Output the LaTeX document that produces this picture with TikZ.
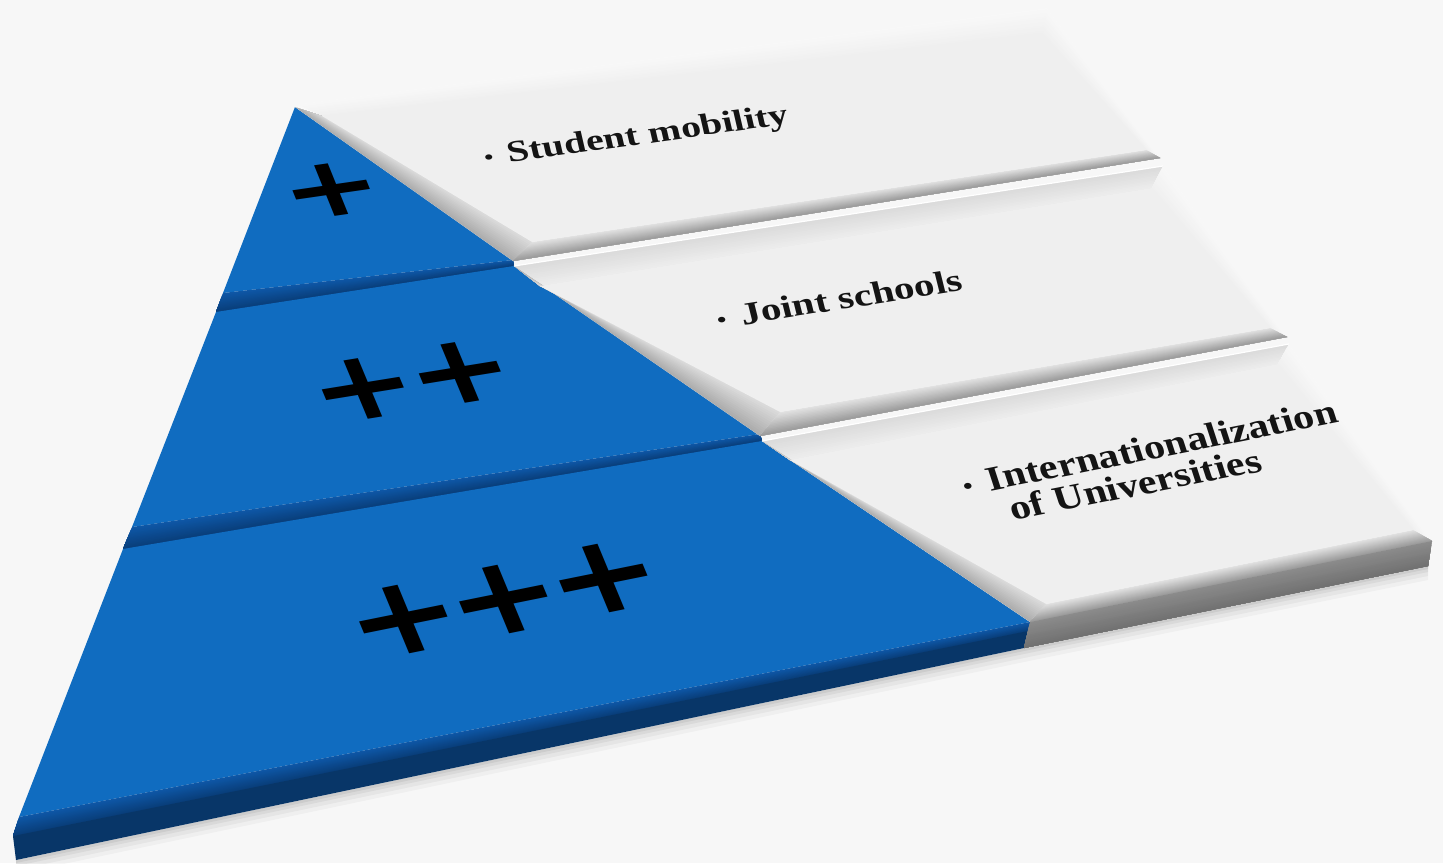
\documentclass[tikz,border=0pt]{standalone}
\usepackage{fontspec}
\setmainfont{Liberation Serif}
\newfontfamily\plusfont{DejaVu Sans}
\usetikzlibrary{calc}
\definecolor{bg}{HTML}{F7F7F7}
\definecolor{blueTop}{RGB}{16,108,192}
\definecolor{blueSeamA}{RGB}{14,88,168}
\definecolor{blueSeamB}{RGB}{9,62,122}
\definecolor{blueFront}{RGB}{8,54,104}
\definecolor{greyFace}{HTML}{EFEFEF}
\definecolor{greyRim}{HTML}{F8F8F8}
\definecolor{rimIn}{HTML}{F0F0F0}
\definecolor{bevDiagA}{HTML}{ABABAB}
\definecolor{bevDiagB}{HTML}{DCDCDC}
\definecolor{bevBotA}{HTML}{E4E4E4}
\definecolor{bevBotB}{HTML}{9A9A9A}
\definecolor{topRimA}{HTML}{DADADA}
\definecolor{topRimB}{HTML}{EDEDED}
\definecolor{frontA}{HTML}{8C8C8C}
\definecolor{frontB}{HTML}{717171}
\definecolor{textcol}{HTML}{141414}
% gradient strip: painted from the far edge inwards, each band reaching to the far edge
\newcommand\gstrip[6]{%
  \foreach \k in {1,...,14}{%
    \pgfmathsetmacro\ta{(\k-1)/14}%
    \pgfmathtruncatemacro\pc{round(100*(\k-0.5)/14)}%
    \fill[#6!\pc!#5]
      ($(#1)!\ta!(#4)$) -- ($(#2)!\ta!(#3)$) -- (#3) -- (#4) -- cycle;
  }%
}
\newcommand\bul{\makebox[18pt][l]{\raisebox{1.5pt}{\scalebox{0.65}{\textbullet}}}}
\tikzset{
  txt/.style={inner sep=0pt, transform shape, anchor=base west, text=textcol,
    font=\fontsize{30}{26.4}\selectfont\bfseries},
  plus/.style={inner sep=0pt, transform shape, anchor=center, text=black,
    font=\plusfont\bfseries\fontsize{100}{100}\selectfont}
}
\begin{document}
\begin{tikzpicture}[x=1pt,y=-1pt]
\useasboundingbox (0,0) rectangle (1443,863);
\fill[bg] (0,0) rectangle (1443,863);

% ---- key points ----
\coordinate (A) at (295,107);
\coordinate (L1a) at (223,293);
\coordinate (L1b) at (216,312);
\coordinate (L2a) at (132,527);
\coordinate (L2b) at (123,549);
\coordinate (L3a) at (19,817);
\coordinate (L3m) at (13,836);
\coordinate (L3b) at (16,860);
\coordinate (D1a) at (513,260);
\coordinate (D1b) at (514,266);
\coordinate (D2a) at (760,434);
\coordinate (D2b) at (762,441);
\coordinate (D3a) at (1030,622);
\coordinate (D3m) at (1028,631);
\coordinate (D3b) at (1024,648);

\coordinate (P1tl) at (299,104);
\coordinate (P1tr) at (1047,8);
\coordinate (P1br) at (1160,158);
\coordinate (P1bl) at (513,261);
\coordinate (F1tl) at (322,116);
\coordinate (F1tr) at (1042,33);
\coordinate (F1br) at (1146,150);
\coordinate (F1bl) at (532,242);

\coordinate (P2tl) at (514,266);
\coordinate (P2tr) at (1163,166);
\coordinate (P2br) at (1287,337);
\coordinate (P2bl) at (760,436);
\coordinate (F2tl) at (540,286);
\coordinate (F2tr) at (1152,188);
\coordinate (F2br) at (1270,328);
\coordinate (F2bl) at (780,412);

\coordinate (P3tl) at (762,441);
\coordinate (P3tr) at (1289,344);
\coordinate (P3br) at (1432,541);
\coordinate (P3bl) at (1030,622);
\coordinate (F3tl) at (790,460);
\coordinate (F3tr) at (1278,364);
\coordinate (F3br) at (1413,530);
\coordinate (F3bl) at (1046,604);
\coordinate (P3fr) at (1428,566);

% ---- soft shadow ----
\foreach \s/\o in {14/0.03,10/0.04,6/0.05,3/0.06}{
  \fill[black, opacity=\o] (L3b) -- (D3b) -- (P3fr) -- ([yshift=-\s pt]P3fr) -- ([yshift=-\s pt]D3b) -- ([yshift=-\s pt]L3b) -- cycle;
}

% ---- blue pyramid ----
\fill[blueTop] (A) -- (D1a) -- (L1a) -- cycle;
\gstrip{L1a}{D1a}{D1b}{L1b}{blueSeamA}{blueSeamB}
\fill[blueTop] (L1b) -- (D1b) -- (D2a) -- (L2a) -- cycle;
\gstrip{L2a}{D2a}{D2b}{L2b}{blueSeamA}{blueSeamB}
\fill[blueTop] (L2b) -- (D2b) -- (D3a) -- (L3a) -- cycle;
\gstrip{L3a}{D3a}{D3m}{L3m}{blueSeamA}{blueSeamB}
\fill[blueFront] (L3m) -- (D3m) -- (D3b) -- (L3b) -- cycle;

% ---- grey panel 1 ----
\fill[greyRim] (A) -- (P1tl) -- (P1tr) -- (P1br) -- (P1bl) -- cycle;
\gstrip{P1tl}{P1tr}{F1tr}{F1tl}{greyRim}{rimIn}
\gstrip{P1tr}{P1br}{F1br}{F1tr}{greyRim}{rimIn}
\gstrip{A}{P1bl}{F1bl}{F1tl}{bevDiagA}{bevDiagB}
\gstrip{F1bl}{F1br}{P1br}{P1bl}{bevBotA}{bevBotB}
\fill[greyFace] (F1tl) -- (F1tr) -- (F1br) -- (F1bl) -- cycle;

% ---- grey panel 2 ----
\fill[greyRim] (P2tl) -- (P2tr) -- (P2br) -- (P2bl) -- cycle;
\gstrip{P2tl}{P2tr}{F2tr}{F2tl}{topRimA}{topRimB}
\gstrip{P2tr}{P2br}{F2br}{F2tr}{greyRim}{rimIn}
\gstrip{P2tl}{P2bl}{F2bl}{F2tl}{bevDiagA}{bevDiagB}
\gstrip{F2bl}{F2br}{P2br}{P2bl}{bevBotA}{bevBotB}
\fill[greyFace] (F2tl) -- (F2tr) -- (F2br) -- (F2bl) -- cycle;
\draw[white, line width=1.2pt] (P2tl) -- (P2tr);

% ---- grey panel 3 ----
\fill[greyRim] (P3tl) -- (P3tr) -- (P3br) -- (P3bl) -- cycle;
\gstrip{P3tl}{P3tr}{F3tr}{F3tl}{topRimA}{topRimB}
\gstrip{P3tr}{P3br}{F3br}{F3tr}{greyRim}{rimIn}
\gstrip{P3tl}{P3bl}{F3bl}{F3tl}{bevDiagA}{bevDiagB}
\gstrip{F3bl}{F3br}{P3br}{P3bl}{bevBotA}{bevBotB}
\fill[greyFace] (F3tl) -- (F3tr) -- (F3br) -- (F3bl) -- cycle;
\draw[white, line width=1.2pt] (P3tl) -- (P3tr);
\gstrip{P3bl}{P3br}{P3fr}{D3b}{frontA}{frontB}

% ---- texts ----
\begin{scope}[shift={(486,166)}, cm={1.3075,0.1814,-0.2282,0.9885,(0,0)}]
  \node[txt] (t1) at (0,0) {\bul Student mobility};
\end{scope}
\begin{scope}[shift={(719,329)}, cm={1.3433,0.2127,-0.2582,1.0356,(0,0)}]
  \node[txt] (t2) at (0,0) {\bul Joint schools};
\end{scope}
\begin{scope}[shift={(966,496)}, cm={1.3606,0.2694,-0.3625,1.1162,(0,0)}]
  \node[txt] (t3a) at (0,0) {\bul Internationalization};
  \node[txt] (t3b) at (27,28.5) {of Universities};
\end{scope}

% ---- plus signs ----
\begin{scope}[shift={(332,190)}, cm={1.178,0.170,-0.326,0.807,(0,0)}]
  \node[plus] (p1) at (0,0) {+};
\end{scope}
\begin{scope}[shift={(411.5,381)}, cm={1.240,0.201,-0.388,0.930,(0,0)}]
  \node[plus] (p2) at (0,0) {+\kern-5.8pt+};
\end{scope}
\begin{scope}[shift={(504,599)}, cm={1.333,0.269,-0.433,1.044,(0,0)}]
  \node[plus] (p3) at (0,0) {+\kern-8.8pt+\kern-8.8pt+};
\end{scope}
\end{tikzpicture}
\end{document}
